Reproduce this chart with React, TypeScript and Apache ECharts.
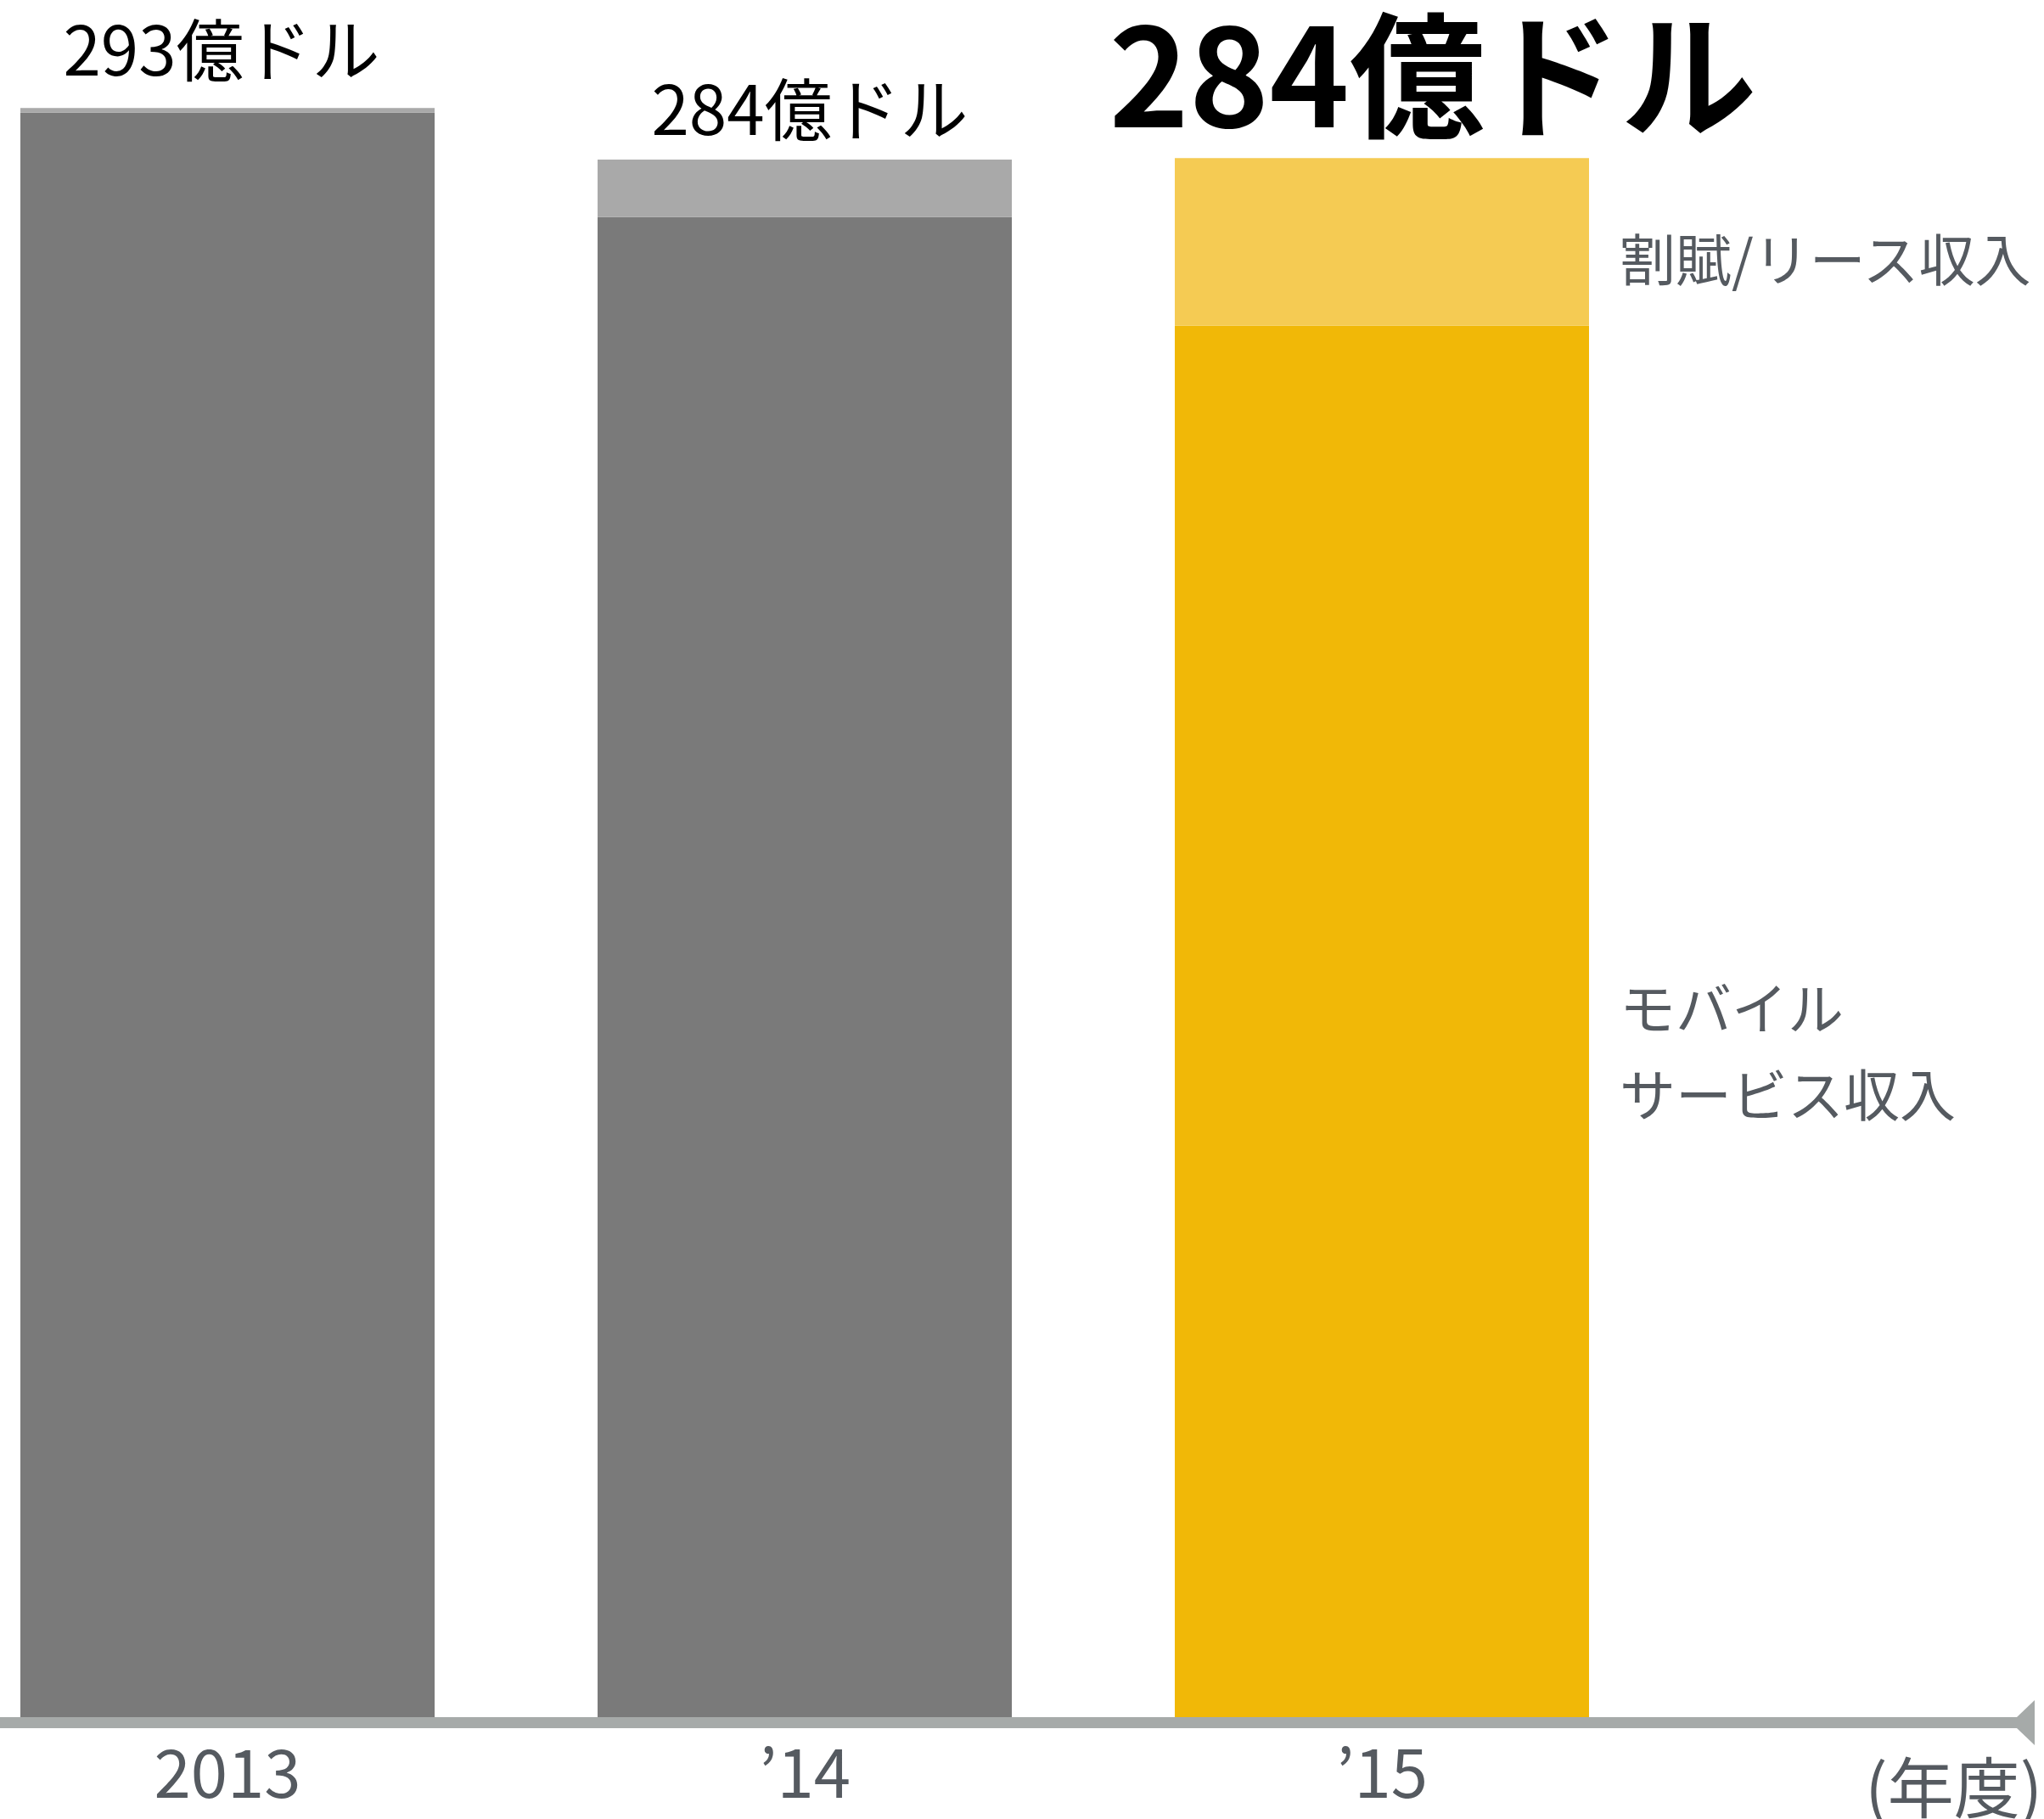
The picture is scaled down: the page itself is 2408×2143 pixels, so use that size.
import React, { useEffect, useRef } from "react";
import * as echarts from "echarts";

const categories = ["2013", "\u201914", "\u201915"];
const mobileService = [292.2, 273.2, 253.4];
const installment = [0.8, 10.4, 30.5];
const totals = [293, 284, 284];
const totalUnit = "億ドル";
const mobileName = "モバイル\nサービス収入";
const installmentName = "割賦/リース収入";
const yearUnit = "(年度)";

const FONT = '"Noto Sans CJK JP", "Noto Sans", sans-serif';
const GRAY_TEXT = "#555a60";
const darkColors = ["#7a7a7a", "#7a7a7a", "#f1b807"];
const lightColors = ["#a9a9a9", "#a9a9a9", "#f5cb53"];

export default function App() {
  const ref = useRef<HTMLDivElement>(null);
  useEffect(() => {
    if (!ref.current) return;
    const chart = echarts.init(ref.current, null, { renderer: "svg" });
    const totalLabelCfg = [
      { fontSize: 80, fontWeight: "normal", distance: 32, offset: [-7, 0] },
      { fontSize: 80, fontWeight: "normal", distance: 21, offset: [6, 0] },
      { fontSize: 160, fontWeight: "bold", distance: 25, offset: [60, 0] },
    ];
    chart.setOption({
      animation: false,
      backgroundColor: "#ffffff",
      textStyle: { fontFamily: FONT },
      grid: { left: 268, right: 780, top: 82, bottom: 120, containLabel: false },
      xAxis: {
        type: "category",
        data: categories,
        boundaryGap: false,
        axisLine: { show: false },
        axisTick: { show: false },
        splitLine: { show: false },
        axisLabel: {
          fontSize: 78,
          color: GRAY_TEXT,
          fontFamily: FONT,
          margin: 22,
        },
      },
      yAxis: {
        type: "value",
        min: 0,
        max: 300,
        show: false,
        splitLine: { show: false },
      },
      series: [
        {
          name: "モバイルサービス収入",
          type: "bar",
          stack: "total",
          barWidth: 488,
          data: mobileService.map((v, i) => ({
            value: v,
            itemStyle: { color: darkColors[i] },
            label:
              i === 2
                ? {
                    show: true,
                    position: "right",
                    distance: 36,
                    offset: [0, 32],
                    formatter: mobileName,
                    fontSize: 66,
                    lineHeight: 102,
                    color: GRAY_TEXT,
                    fontFamily: FONT,
                  }
                : { show: false },
          })),
        },
        {
          name: installmentName,
          type: "bar",
          stack: "total",
          barWidth: 488,
          data: installment.map((v, i) => ({
            value: v,
            itemStyle: { color: lightColors[i] },
            label:
              i === 2
                ? {
                    show: true,
                    position: "right",
                    distance: 36,
                    offset: [0, 17],
                    formatter: installmentName,
                    fontSize: 66,
                    color: GRAY_TEXT,
                    fontFamily: FONT,
                  }
                : { show: false },
          })),
        },
        {
          name: "合計",
          type: "scatter",
          symbolSize: 0.01,
          itemStyle: { color: "#000000", opacity: 1 },
          z: 5,
          label: { show: true, color: "#000000", opacity: 1 },
          data: totals.map((v, i) => ({
            value: v,
            label: {
              show: true,
              position: "top",
              distance: totalLabelCfg[i].distance + 1,
              offset: totalLabelCfg[i].offset,
              formatter: `${v}${totalUnit}`,
              fontSize: totalLabelCfg[i].fontSize,
              fontWeight: totalLabelCfg[i].fontWeight,
              color: "#000000",
              opacity: 1,
              fontFamily: FONT,
            },
          })),
        },
      ],
      graphic: [
        {
          type: "rect",
          shape: { x: 0, y: 2023, width: 2380, height: 13 },
          style: { fill: "#a6aaa9" },
          silent: true,
        },
        {
          type: "polygon",
          shape: {
            points: [
              [2376, 2023],
              [2397, 2003],
              [2397, 2056],
              [2376, 2036],
            ],
          },
          style: { fill: "#a6aaa9" },
          silent: true,
        },
        {
          type: "text",
          x: 2406,
          y: 2102,
          style: {
            text: yearUnit,
            align: "right",
            verticalAlign: "middle",
            fontSize: 78,
            fill: GRAY_TEXT,
            fontFamily: FONT,
          },
          silent: true,
        },
      ],
    });
    return () => chart.dispose();
  }, []);
  return (
    <div
      ref={ref}
      style={{ position: "absolute", left: 0, top: 0, width: 2408, height: 2143 }}
    />
  );
}
